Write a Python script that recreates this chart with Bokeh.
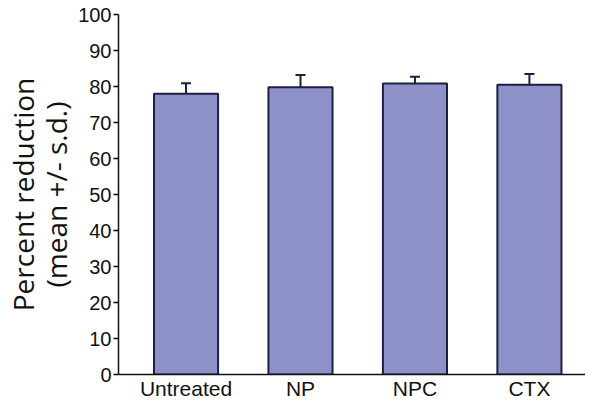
from bokeh.plotting import figure
from bokeh.models import Range1d, FixedTicker, ColumnDataSource, Whisker
from bokeh.embed import file_html
from bokeh.resources import INLINE

categories = ["Untreated", "NP", "NPC", "CTX"]
means = [78.0, 79.8, 80.8, 80.5]
sds = [2.9, 3.4, 1.9, 3.0]
y_ticks = [0, 10, 20, 30, 40, 50, 60, 70, 80, 90, 100]

xs = list(range(len(categories)))
src = ColumnDataSource(dict(
    x=xs, top=means,
    upper=[m + s for m, s in zip(means, sds)],
    lower=means,
))

p = figure(width=585, height=402, output_backend="svg", toolbar_location=None,
           x_range=Range1d(-0.59, 3.49), y_range=Range1d(0, 100),
           min_border_top=14, min_border_right=0, min_border_bottom=0, min_border_left=110)
p.outline_line_color = None
p.grid.grid_line_color = None
p.background_fill_color = "white"

p.vbar(x="x", top="top", bottom=0, width=0.56, source=src,
       fill_color="#8d91c8", line_color="#1c2040", line_width=2)

w = Whisker(base="x", upper="upper", lower="lower", source=src, dimension="height",
            line_color="#1c2040", line_width=2)
w.upper_head.size = 10
w.upper_head.line_color = "#1c2040"
w.upper_head.line_width = 2
w.lower_head = None
p.add_layout(w)

# x axis
xa = p.xaxis[0]
xa.ticker = FixedTicker(ticks=xs)
xa.major_label_overrides = {i: c for i, c in enumerate(categories)}
xa.major_tick_out = 0
xa.major_tick_in = 0
xa.minor_tick_out = 0
xa.axis_line_color = "#111111"
xa.axis_line_width = 1.5
xa.major_label_text_font = "Liberation Sans"
xa.major_label_text_font_size = "21px"
xa.major_label_text_color = "#111111"
xa.major_label_standoff = 2

# y axis
ya = p.yaxis[0]
ya.ticker = FixedTicker(ticks=y_ticks)
ya.major_tick_out = 5
ya.major_tick_in = 0
ya.minor_tick_out = 0
ya.minor_tick_in = 0
ya.axis_line_color = "#111111"
ya.axis_line_width = 1.5
ya.major_tick_line_width = 1.5
ya.major_label_text_font = "Liberation Sans"
ya.major_label_text_font_size = "20px"
ya.major_label_text_color = "#111111"
ya.major_label_standoff = 2
ya.axis_label = "Percent reduction\n(mean +/- s.d.)"
ya.axis_label_text_font = "Open Sans"
ya.axis_label_text_font_size = "28px"
ya.axis_label_text_font_style = "normal"
ya.axis_label_text_color = "#111111"
ya.axis_label_text_line_height = 0.88
ya.axis_label_standoff = 0

open("out.html", "w").write(file_html(p, INLINE))
